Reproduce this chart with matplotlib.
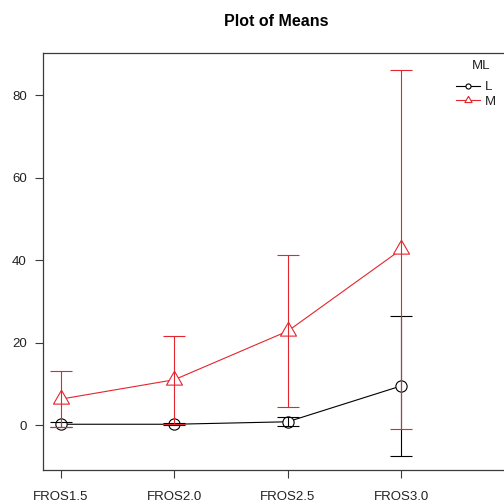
import matplotlib

matplotlib.use("Agg")
import matplotlib.pyplot as plt
import numpy as np

plt.rcParams["font.family"] = ["Liberation Sans", "DejaVu Sans"]

levels = ["FROS1.5", "FROS2.0", "FROS2.5", "FROS3.0"]
l_means = [0.2, 0.2, 0.8, 9.5]
l_err = [0.6, 0.3, 1.1, 16.9]
m_means = [6.3, 11.0, 22.8, 42.6]
m_err = [6.8, 10.7, 18.4, 43.6]
y_ticks = [0, 20, 40, 60, 80]

RED = "#E3262E"
AXIS = "#3a3a3a"

W, H = 504, 501
fig = plt.figure(figsize=(W / 100, H / 100), dpi=100)
# plot box runs a little past the right edge, as in the reference
left, right, top, bottom = 42.7, 509.0, 53.3, 470.0
ax = fig.add_axes([left / W, (H - bottom) / H, (right - left) / W, (bottom - top) / H])

x = np.arange(1, len(levels) + 1)


def draw_series(means, err, color, marker, ms, label):
    ax.errorbar(x, means, yerr=err, fmt="none", ecolor=color, elinewidth=0.8,
                capsize=7.9, capthick=0.8, zorder=4)
    ax.plot(x, means, color=color, linewidth=0.8, zorder=2)
    ax.plot(x, means, linestyle="none", marker=marker, markersize=ms,
            markerfacecolor="white", markeredgecolor=color, markeredgewidth=0.8, zorder=3)
    # handle for the legend
    return ax.plot([], [], color=color, linewidth=0.8, marker=marker, markersize=ms * 0.45,
                   markerfacecolor="white", markeredgecolor=color, markeredgewidth=0.8,
                   label=label)[0]


tri = [(0, 1), (0.866, -0.5), (-0.866, -0.5), (0, 1)]
h_l = draw_series(l_means, l_err, "black", "o", 8.1, "L")
h_m = draw_series(m_means, m_err, RED, tri, 13.3, "M")

ax.set_xlim(0.84, 4.95)
ax.set_ylim(-10.9, 90.2)
ax.set_xticks(x)
ax.set_xticklabels(levels)
ax.set_yticks(y_ticks)
ax.tick_params(axis="both", length=5.5, width=0.8, color=AXIS, labelsize=9.5, labelcolor="#222222")
ax.tick_params(axis="y", pad=6)
ax.tick_params(axis="x", pad=9.5)
for side in ("left", "bottom", "top", "right"):
    ax.spines[side].set_color(AXIS)
    ax.spines[side].set_linewidth(0.9)

fig.text(276 / W, 1 - 22 / H, "Plot of Means", ha="center", va="center",
         fontsize=11.5, fontweight="bold")

# legend title sits further above the entries than matplotlib's packing allows
fig.text(481 / W, 1 - 66 / H, "ML", ha="center", va="center", fontsize=9.5, color="#222222")
leg = fig.legend(handles=[h_l, h_m], loc="upper left",
                 bbox_to_anchor=(456 / W, 1 - 81 / H), bbox_transform=fig.transFigure,
                 frameon=False, fontsize=9.5, borderpad=0, labelcolor="#222222",
                 borderaxespad=0, handlelength=1.8, handletextpad=0.4, labelspacing=0.17)

fig.savefig("out.png", dpi=100)
